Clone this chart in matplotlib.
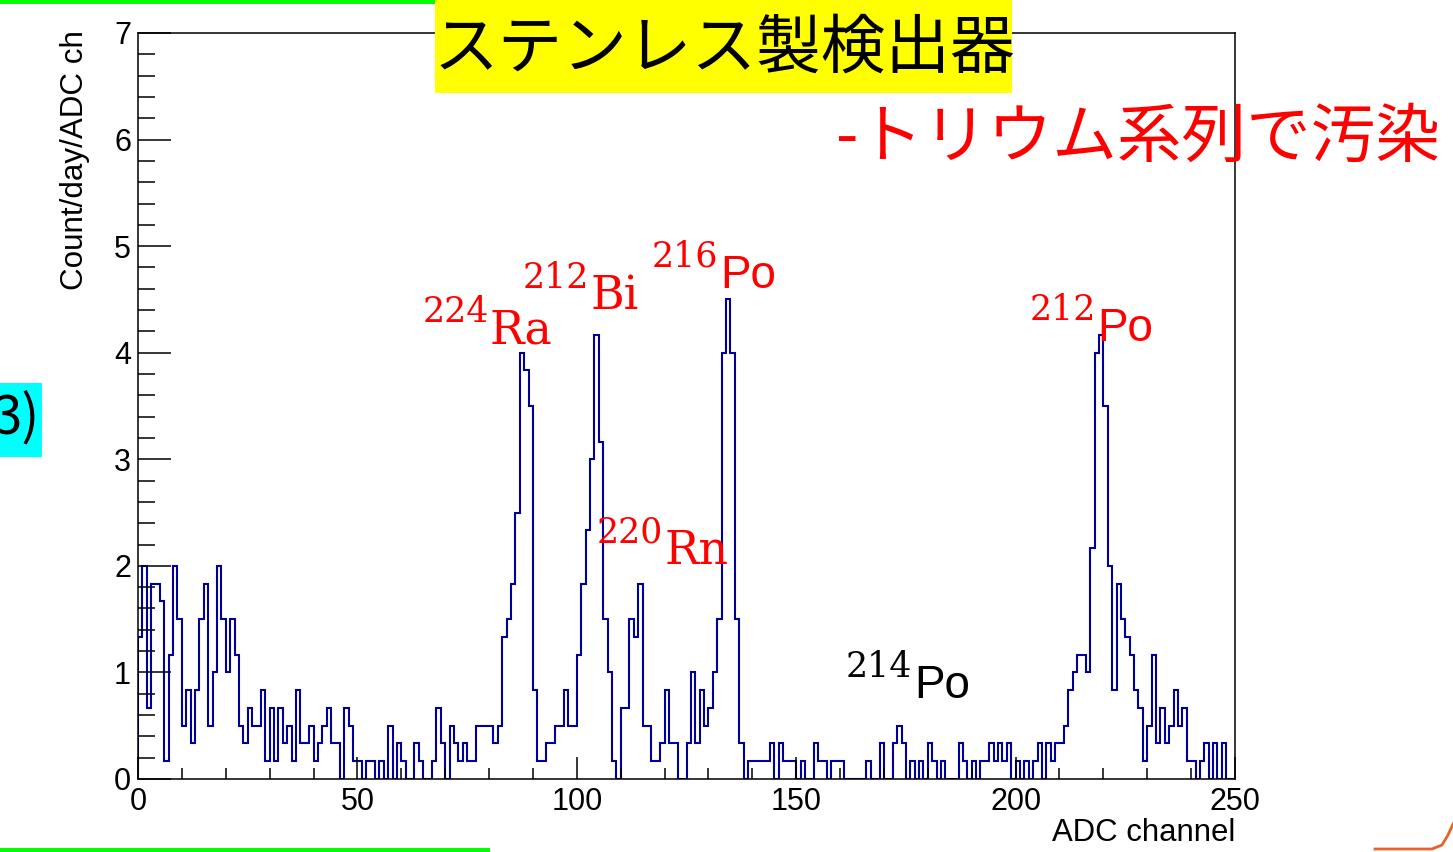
import numpy as np
import matplotlib
matplotlib.use('Agg')
import matplotlib.pyplot as plt
from matplotlib.patches import Rectangle
from matplotlib.lines import Line2D
from matplotlib.ticker import MultipleLocator

plt.rcParams['font.family'] = ['Liberation Sans', 'DejaVu Sans']

# live time and raw counts per ADC channel (bin width = 1 ch)
days = 6
counts = [
    8, 12, 4, 11, 11, 10, 1, 7, 12, 9,
    3, 5, 2, 5, 9, 11, 3, 6, 12, 9,
    6, 9, 7, 3, 2, 4, 3, 3, 5, 1,
    4, 1, 4, 2, 3, 1, 5, 2, 2, 3,
    1, 2, 3, 4, 2, 2, 0, 4, 3, 1,
    1, 0, 1, 1, 0, 1, 0, 3, 0, 2,
    1, 0, 0, 2, 1, 0, 0, 1, 4, 2,
    0, 3, 2, 1, 2, 1, 1, 3, 3, 3,
    3, 2, 3, 8, 9, 11, 15, 24, 23, 21,
    5, 1, 1, 2, 2, 3, 3, 5, 3, 3,
    7, 11, 14, 18, 25, 19, 9, 6, 1, 0,
    4, 4, 9, 8, 11, 3, 3, 1, 1, 2,
    5, 2, 2, 0, 0, 2, 6, 2, 5, 3,
    4, 6, 9, 24, 27, 24, 9, 2, 0, 1,
    1, 1, 1, 1, 2, 0, 2, 1, 1, 1,
    0, 1, 0, 0, 2, 1, 1, 0, 1, 1,
    1, 0, 0, 0, 0, 0, 1, 0, 0, 2,
    0, 0, 2, 3, 2, 0, 1, 0, 1, 0,
    2, 1, 0, 1, 0, 0, 0, 2, 1, 0,
    1, 0, 1, 1, 2, 1, 2, 1, 2, 0,
    1, 0, 1, 0, 1, 2, 0, 2, 1, 2,
    2, 3, 5, 6, 7, 7, 6, 13, 24, 25,
    21, 12, 5, 11, 9, 8, 7, 5, 4, 1,
    3, 7, 2, 4, 2, 3, 5, 3, 4, 1,
    1, 0, 1, 2, 0, 2, 0, 2, 0, 0,
]

# peak labels: (superscript, element, color, x of label, y of label)
labels = [
    ('224', 'Ra', 'red', 80.2, 4.09),
    ('212', 'Bi', 'red', 103.2, 4.41),
    ('216', 'Po', 'red', 132.6, 4.61),
    ('220', 'Rn', 'red', 119.9, 2.02),
    ('212', 'Po', 'red', 218.6, 4.11),
    ('214', 'Po', 'black', 176.8, 0.76),
]

W, H = 1453, 852


def fx(px):
    return px / W


def fy(py):
    return 1 - py / H


fig = plt.figure(figsize=(W / 100, H / 100), dpi=100)
ax = fig.add_axes([fx(138), fy(779), fx(1235) - fx(138), fy(33) - fy(779)])

edges = np.arange(len(counts) + 1)
rate = np.array(counts) / days
ax.stairs(rate, edges, color='#000099', lw=1.5)

ax.set_xlim(0, 250)
ax.set_ylim(0, 7)
ax.xaxis.set_major_locator(MultipleLocator(50))
ax.xaxis.set_minor_locator(MultipleLocator(10))
ax.yaxis.set_major_locator(MultipleLocator(1))
ax.yaxis.set_minor_locator(MultipleLocator(0.2))
ax.tick_params(which='both', direction='in', top=False, right=False,
               labelsize=22, width=1.1, color='black')
ax.tick_params(axis='x', which='major', length=16, pad=6)
ax.tick_params(axis='x', which='minor', length=8)
ax.tick_params(axis='y', which='major', length=24, pad=5)
ax.tick_params(axis='y', which='minor', length=12)
for s in ax.spines.values():
    s.set_linewidth(1.1)

fig.text(fx(75), fy(30), 'Count/day/ADC ch', rotation=90, ha='center',
         va='top', fontsize=22.6)
fig.text(fx(1235), fy(833), 'ADC channel', ha='right', va='center',
         fontsize=22.4)

# isotope labels
for sup, el, col, x, y in labels:
    ax.text(x, y, el, color=col, fontsize=33, ha='left', va='baseline',
            family='DejaVu Serif' if el != 'Po' else 'Liberation Sans')
    ax.annotate(sup, xy=(x, y), xytext=(-1, 15), textcoords='offset points',
                ha='right', va='baseline', color=col, fontsize=25,
                family='DejaVu Serif')

# title box
fig.add_artist(Rectangle((fx(435), fy(93)), fx(1012) - fx(435), fy(0) - fy(93),
                         transform=fig.transFigure, facecolor='#ffff00',
                         edgecolor='none', zorder=5))
fig.text(fx(724), fy(49), 'ステンレス製検出器', fontsize=46.5,
         family=['Noto Sans CJK JP', 'DejaVu Sans'], ha='center', va='center',
         zorder=6)

fig.text(fx(836), fy(139), '-トリウム系列で汚染', color='red', fontsize=46.5,
         family=['Noto Sans CJK JP', 'DejaVu Sans'], ha='left', va='center')

# bits of the slide around the plot
fig.add_artist(Rectangle((fx(0), fy(457)), fx(42), fy(383) - fy(457),
                         transform=fig.transFigure, facecolor='#00ffff',
                         edgecolor='none'))
fig.text(fx(40), fy(418), '3)', fontsize=38, ha='right', va='center',
         family=['Noto Sans CJK JP', 'DejaVu Sans'])
fig.add_artist(Rectangle((0, fy(4)), fx(435), fy(0) - fy(4),
                         transform=fig.transFigure, facecolor='#00ff00',
                         edgecolor='none'))
fig.add_artist(Rectangle((0, fy(852)), fx(490), fy(848) - fy(852),
                         transform=fig.transFigure, facecolor='#00ff00',
                         edgecolor='none'))
fig.add_artist(Line2D([fx(1375), fx(1432), fx(1442), fx(1448), fx(1453)],
                      [fy(849), fy(849), fy(845), fy(835), fy(824)],
                      transform=fig.transFigure, color='#e8602c', lw=2))

fig.savefig('out.png', dpi=100)
